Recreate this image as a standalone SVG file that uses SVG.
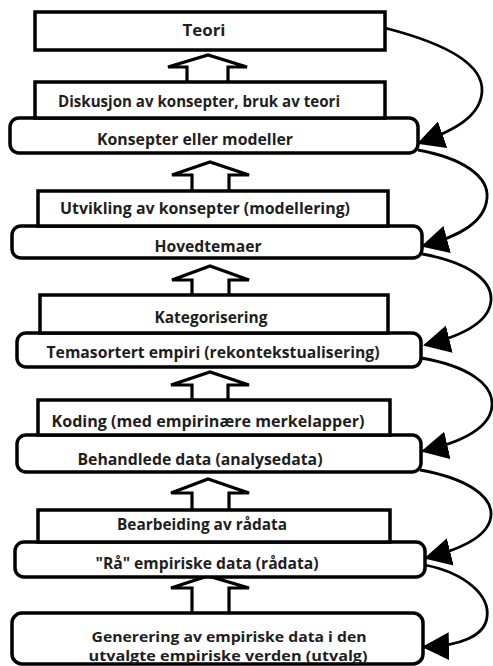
<svg xmlns="http://www.w3.org/2000/svg" width="493" height="666" viewBox="0 0 493 666">
<defs>
<style>
.box{fill:#fff;stroke:#000;stroke-width:3.5}
.rnd{fill:#fff;stroke:#000;stroke-width:3.5}
.up{fill:#fff;stroke:#000;stroke-width:3.2;stroke-linejoin:miter}
.lbl{font-family:"Open Sans","Liberation Sans",sans-serif;font-weight:bold;font-size:15.5px;fill:#1e1e1e;text-anchor:middle}
.sm{font-size:14px}
.con{fill:none;stroke:#000;stroke-width:2.8;marker-end:url(#ah)}
</style>
<marker id="ah" viewBox="0 0 27 28" refX="25" refY="14" markerWidth="27" markerHeight="28" markerUnits="userSpaceOnUse" orient="auto">
<path d="M0,0 L27,14 L0,28 Z" fill="#000"/>
</marker>
</defs>
<rect width="493" height="666" fill="#fff"/>

<g id="up-arrows">
<path class="up" d="M187,83 V67 H168 L208,55 L247,67 H228 V83"/>
<path class="up" d="M192,192 V175 H172 L210,162 L249,175 H229 V192"/>
<path class="up" d="M192,296 V280 H172 L210,266 L249,280 H229 V296"/>
<path class="up" d="M192,401 V385 H171 L210,372 L249,385 H228 V401"/>
<path class="up" d="M192,511 V493 H171 L208,479 L249,493 H229 V511"/>
<path class="up" d="M192,614 V588 H171 L208,576 L249,588 H229 V614"/>
</g>

<g id="n-teori"><rect class="box" x="35" y="12" width="350" height="38"/><text class="lbl" x="204" y="36" textLength="43" lengthAdjust="spacingAndGlyphs">Teori</text></g>
<g id="n-konsepter"><rect class="rnd" x="10" y="118" width="408" height="35" rx="9" ry="9"/><text class="lbl" x="195" y="145" textLength="196" lengthAdjust="spacingAndGlyphs">Konsepter eller modeller</text></g>
<g id="n-diskusjon"><rect class="box" x="35" y="82" width="350" height="36"/><text class="lbl" x="199" y="107" textLength="282" lengthAdjust="spacingAndGlyphs">Diskusjon av konsepter, bruk av teori</text></g>

<g id="n-hovedtemaer"><rect class="rnd" x="12" y="226" width="410" height="32" rx="9" ry="9"/><text class="lbl" x="208" y="252" textLength="107" lengthAdjust="spacingAndGlyphs">Hovedtemaer</text></g>
<g id="n-utvikling"><rect class="box" x="38" y="191" width="350" height="35"/><text class="lbl" x="205" y="214" textLength="290" lengthAdjust="spacingAndGlyphs">Utvikling av konsepter (modellering)</text></g>

<g id="n-temasortert"><rect class="rnd" x="17" y="333" width="404" height="34" rx="9" ry="9"/><text class="lbl" x="213" y="358" textLength="333" lengthAdjust="spacingAndGlyphs">Temasortert empiri (rekontekstualisering)</text></g>
<g id="n-kategorisering"><rect class="box" x="40" y="295" width="348" height="38"/><text class="lbl" x="211" y="323" textLength="113" lengthAdjust="spacingAndGlyphs">Kategorisering</text></g>

<g id="n-behandlede"><rect class="rnd" x="17" y="435" width="404" height="37" rx="9" ry="9"/><text class="lbl" x="200" y="465" textLength="245" lengthAdjust="spacingAndGlyphs">Behandlede data (analysedata)</text></g>
<g id="n-koding"><rect class="box" x="38" y="400" width="352" height="35"/><text class="lbl" x="208" y="427" textLength="313" lengthAdjust="spacingAndGlyphs">Koding (med empirinære merkelapper)</text></g>

<g id="n-raa"><rect class="rnd" x="15" y="542" width="410" height="35" rx="9" ry="9"/><text class="lbl" x="207" y="569" textLength="223" lengthAdjust="spacingAndGlyphs">"Rå" empiriske data (rådata)</text></g>
<g id="n-bearbeiding"><rect class="box" x="38" y="510" width="352" height="32"/><text class="lbl" x="202" y="530" textLength="170" lengthAdjust="spacingAndGlyphs">Bearbeiding av rådata</text></g>

<g id="n-generering"><rect class="rnd" x="12" y="613" width="411" height="51" rx="10" ry="10"/><text class="lbl sm" x="229" y="642" textLength="275" lengthAdjust="spacingAndGlyphs">Generering av empiriske data i den</text><text class="lbl sm" x="228" y="661" textLength="279" lengthAdjust="spacingAndGlyphs">utvalgte empiriske verden (utvalg)</text></g>

<g id="connectors">
<path class="con" d="M385,28 C440,42 484,62 482,92 C480,116 456,130 419,143"/>
<path class="con" d="M418,150 C462,158 489,176 487,198 C485,222 460,236 423,246"/>
<path class="con" d="M422,254 C468,262 492,280 491,300 C490,322 462,336 425,345"/>
<path class="con" d="M421,358 C468,366 493,384 492,405 C491,428 462,442 423,451"/>
<path class="con" d="M420,470 C465,478 492,495 491,515 C490,536 462,549 426,558"/>
<path class="con" d="M425,565 C465,573 490,595 487,617 C485,636 460,646 424,647"/>
</g>
</svg>
